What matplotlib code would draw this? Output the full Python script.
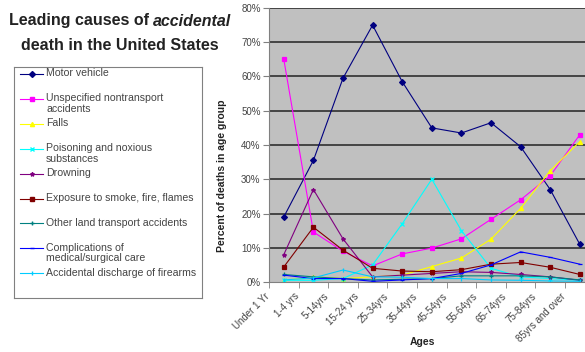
import matplotlib
matplotlib.use("Agg")
import matplotlib.pyplot as plt
from matplotlib.transforms import ScaledTranslation

plt.rcParams["font.family"] = ["Liberation Sans", "DejaVu Sans"]

ages = ["Under 1 Yr", "1-4 yrs", "5-14yrs", "15-24 yrs", "25-34yrs", "35-44yrs",
        "45-54yrs", "55-64yrs", "65-74yrs", "75-84yrs", "85yrs and over"]

# percent of accidental deaths in each age group
motor_vehicle = [19, 35.5, 59.5, 75, 58.5, 45, 43.5, 46.5, 39.5, 27, 11]
unspecified = [65, 14.6, 9, 4.7, 8.2, 9.9, 12.6, 18.3, 24, 31, 43]
falls = [0.5, 1.5, 1, 1.5, 2, 4.5, 7, 12.5, 21.5, 32.5, 41]
poisoning = [0.5, 0.5, 1, 5, 17, 30, 15, 4, 1.5, 1, 0.5]
drowning = [8, 27, 12.6, 1.5, 2, 2.5, 3, 2.8, 2.2, 1.5, 0.5]
fire = [4.4, 16, 9.3, 4, 3.2, 3, 3.6, 5.2, 5.7, 4.3, 2.2]
other_land = [2.2, 1.5, 1, 0.6, 0.8, 1, 1.8, 1.8, 1.8, 1.5, 0.6]
medical = [2, 1, 1, 0.2, 0.6, 1, 2.5, 5, 8.8, 7.2, 5.2]
firearms = [0.6, 1.2, 3.5, 1.5, 1.4, 1, 1, 0.6, 0.5, 0.3, 0.2]

series = [
    ("Motor vehicle", motor_vehicle, "#000080", "D"),
    ("Unspecified nontransport\naccidents", unspecified, "#FF00FF", "s"),
    ("Falls", falls, "#FFFF00", "^"),
    ("Poisoning and noxious\nsubstances", poisoning, "#00FFFF", "x"),
    ("Drowning", drowning, "#800080", "*"),
    ("Exposure to smoke, fire, flames", fire, "#800000", "s"),
    ("Other land transport accidents", other_land, "#008080", "+"),
    ("Complications of\nmedical/surgical care", medical, "#0000FF", "_"),
    ("Accidental discharge of firearms", firearms, "#00CCFF", "|"),
]

W, H = 585, 352
fig = plt.figure(figsize=(W / 100, H / 100), dpi=100)

# plot area runs a little past the right edge of the image
left, top, bottom = 269, 8, 282
right = left + 11 * 29.6
ax = fig.add_axes([left / W, 1 - bottom / H, (right - left) / W, (bottom - top) / H])
ax.set_facecolor("#C0C0C0")

x = list(range(len(ages)))
for label, vals, color, marker in series:
    ax.plot(x, vals, color=color, lw=0.8, marker=marker, ms=3,
            mec=color, mfc=color, mew=0.9)

ax.set_xlim(-0.5, len(ages) - 0.5)
ax.set_ylim(0, 80)
yt = list(range(0, 81, 10))
ax.set_yticks(yt)
ax.set_yticklabels([f"{v}%" for v in yt], fontsize=7, color="#444444")
for v in yt[1:]:
    ax.axhline(v, color="#3a3a3a", lw=1.3, zorder=0.5)

ax.set_xticks(x)
ax.set_xticklabels(ages, rotation=45, ha="right", fontsize=7, color="#444444")
ax.tick_params(axis="x", length=0, pad=3)
shift = ScaledTranslation(-0.12, -0.05, fig.dpi_scale_trans)
for lab in ax.get_xticklabels():
    lab.set_transform(lab.get_transform() + shift)
ax.set_xticks([i - 0.5 for i in range(len(ages) + 1)], minor=True)
ax.tick_params(axis="x", which="minor", length=4, color="#808080", direction="out")
ax.tick_params(axis="y", length=4, color="#808080", direction="out", pad=2)

for side in ("top", "right"):
    ax.spines[side].set_visible(False)
ax.spines["left"].set_color("#808080")
ax.spines["bottom"].set_color("#808080")

fig.text(222 / W, 1 - 176 / H, "Percent of deaths in age group", rotation=90,
         fontsize=7.5, fontweight="bold", ha="center", va="center", color="#222222")
fig.text(422 / W, 1 - 342 / H, "Ages", fontsize=7.5, fontweight="bold",
         ha="center", va="center", color="#222222")

# title, with the italic word placed after measuring the plain part
t1 = fig.text(0, 1 - 21 / H, "Leading causes of ", fontsize=11.5, fontweight="bold",
              ha="left", va="center", color="#222222")
t2 = fig.text(0, 1 - 21 / H, "accidental", fontsize=11.5, fontweight="bold",
              style="italic", ha="left", va="center", color="#222222")
fig.canvas.draw()
r = fig.canvas.get_renderer()
w1 = t1.get_window_extent(r).width
w2 = t2.get_window_extent(r).width
x0 = 120 - (w1 + w2) / 2
t1.set_x(x0 / W)
t2.set_x((x0 + w1) / W)
fig.text(120 / W, 1 - 45 / H, "death in the United States", fontsize=11.5,
         fontweight="bold", ha="center", va="center", color="#222222")

# legend box drawn in pixel coordinates
leg = fig.add_axes([14 / W, 1 - 298 / H, 188 / W, 231 / H])
leg.set_xlim(14, 202)
leg.set_ylim(298, 67)
leg.set_xticks([])
leg.set_yticks([])
for s in leg.spines.values():
    s.set_color("#808080")
for i, (label, vals, color, marker) in enumerate(series):
    y = 74 + 24.9 * i
    leg.plot([20, 43], [y, y], color=color, lw=0.8)
    leg.plot([31.5], [y], marker=marker, ms=3, color=color, mec=color, mfc=color)
    leg.text(46, y - 5.5, label, fontsize=7.6, va="top", ha="left",
             linespacing=1.05, color="#444444")

fig.savefig("out.png", dpi=100)
